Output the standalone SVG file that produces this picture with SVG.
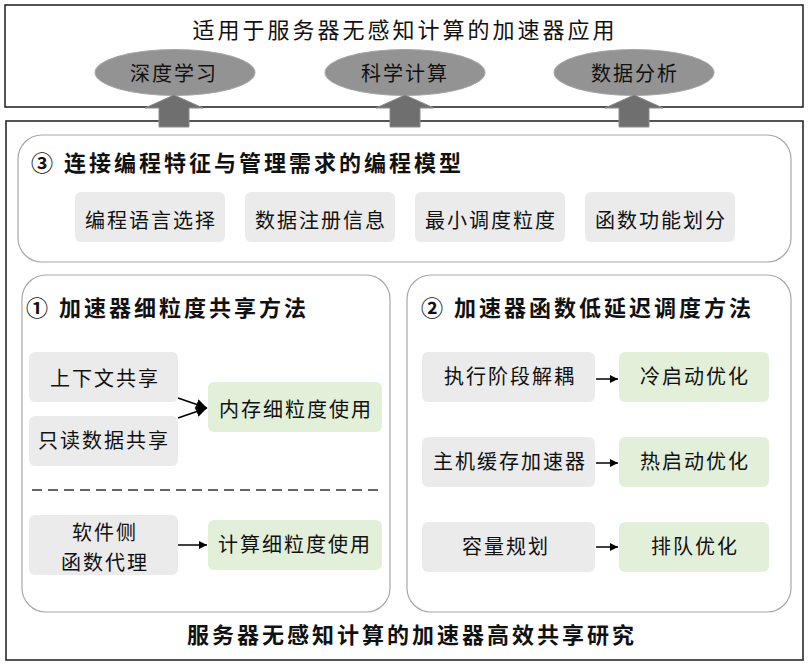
<svg xmlns="http://www.w3.org/2000/svg" width="808" height="668" viewBox="0 0 808 668">
  <defs>
    <marker id="tri" viewBox="0 0 10 10" refX="10" refY="5" markerWidth="10" markerHeight="8" markerUnits="userSpaceOnUse" orient="auto">
      <path d="M0,0 L10,5 L0,10 Z" fill="#000"/>
    </marker>
    <marker id="triBig" viewBox="0 0 10 10" refX="10" refY="5" markerWidth="11" markerHeight="13" markerUnits="userSpaceOnUse" orient="auto">
      <path d="M0,0 L10,5 L0,10 Z" fill="#000"/>
    </marker>
  </defs>
  <style>
    .frame { fill: #fff; stroke: #2a2a2a; stroke-width: 1.6; }
    .panel { fill: #fff; stroke: #a8a8a8; stroke-width: 1.2; }
    .gray { fill: #ebebeb; }
    .green { fill: #e2efd9; }
    .oval { fill: #939393; stroke: #a5a5a5; stroke-width: 1; }
    .uparrow { fill: #6f6f6f; stroke: #8c8c8c; stroke-width: 1; }
    text { font-family: "Noto Sans CJK SC", "Noto Sans", sans-serif; fill: #111; text-anchor: middle; }
    .t { font-size: 20px; letter-spacing: 2px; }
    .head { font-size: 22px; letter-spacing: 3px; }
    .bold { font-size: 22px; letter-spacing: 3px; font-weight: 700; text-anchor: start; }
    .link { fill: none; stroke: #000; stroke-width: 1.5; }
    .dash { fill: none; stroke: #333; stroke-width: 1.5; stroke-dasharray: 10 6; }
  </style>

  <!-- application layer -->
  <g id="apps">
    <rect class="frame" x="5" y="5" width="798" height="102"/>
    <text class="head" x="405" y="38">适用于服务器无感知计算的加速器应用</text>
  </g>
  <g id="app-dl">
    <ellipse class="oval" cx="175" cy="72.5" rx="80" ry="23"/>
    <text class="t" x="174" y="81">深度学习</text>
  </g>
  <g id="app-sci">
    <ellipse class="oval" cx="405" cy="72.5" rx="80" ry="23"/>
    <text class="t" x="405" y="81">科学计算</text>
  </g>
  <g id="app-da">
    <ellipse class="oval" cx="634" cy="72.5" rx="80" ry="23"/>
    <text class="t" x="635" y="81">数据分析</text>
  </g>

  <!-- research frame -->
  <g id="research">
    <rect class="frame" x="6" y="121" width="797" height="539"/>
    <text class="bold" x="187" y="643">服务器无感知计算的加速器高效共享研究</text>
  </g>

  <!-- up arrows between the layers -->
  <g id="up-arrows">
    <path class="uparrow" d="M174,95 L203,108 L189,108 L189,127 L159,127 L159,108 L145,108 Z"/>
    <path class="uparrow" d="M405,95 L434,108 L420,108 L420,127 L390,127 L390,108 L376,108 Z"/>
    <path class="uparrow" d="M634,95 L663,108 L649,108 L649,127 L619,127 L619,108 L605,108 Z"/>
  </g>

  <!-- ③ programming model -->
  <g id="model">
    <rect class="panel" x="18" y="135" width="773" height="127" rx="24"/>
    <text class="bold" x="31" y="171">③ 连接编程特征与管理需求的编程模型</text>
  </g>
  <g id="m-lang">
    <rect class="gray" x="75" y="192" width="150" height="50" rx="6"/>
    <text class="t" x="151" y="228">编程语言选择</text>
  </g>
  <g id="m-data">
    <rect class="gray" x="245" y="192" width="150" height="50" rx="6"/>
    <text class="t" x="321" y="228">数据注册信息</text>
  </g>
  <g id="m-gran">
    <rect class="gray" x="415" y="192" width="150" height="50" rx="6"/>
    <text class="t" x="491" y="228">最小调度粒度</text>
  </g>
  <g id="m-func">
    <rect class="gray" x="585" y="192" width="150" height="50" rx="6"/>
    <text class="t" x="661" y="228">函数功能划分</text>
  </g>

  <!-- ① fine-grained sharing -->
  <g id="sharing">
    <rect class="panel" x="22" y="275" width="368" height="337" rx="24"/>
    <text class="bold" x="26" y="316">① 加速器细粒度共享方法</text>
    <line class="dash" x1="32" y1="490" x2="382" y2="490"/>
  </g>
  <g id="s-ctx">
    <rect class="gray" x="29" y="352" width="149" height="50" rx="6"/>
    <text class="t" x="105" y="386">上下文共享</text>
  </g>
  <g id="s-ro">
    <rect class="gray" x="29" y="416" width="149" height="50" rx="6"/>
    <text class="t" x="104" y="448">只读数据共享</text>
  </g>
  <g id="s-mem">
    <rect class="green" x="208" y="382" width="174" height="50" rx="6"/>
    <text class="t" x="296" y="417">内存细粒度使用</text>
  </g>
  <g id="s-proxy">
    <rect class="gray" x="29" y="515" width="149" height="60" rx="6"/>
    <text class="t" x="105" y="540">软件侧</text>
    <text class="t" x="105" y="570">函数代理</text>
  </g>
  <g id="s-comp">
    <rect class="green" x="208" y="520" width="174" height="50" rx="6"/>
    <text class="t" x="295" y="552">计算细粒度使用</text>
  </g>

  <!-- ② low-latency scheduling -->
  <g id="scheduling">
    <rect class="panel" x="407" y="275" width="384" height="337" rx="24"/>
    <text class="bold" x="421" y="316">② 加速器函数低延迟调度方法</text>
  </g>
  <g id="c-decouple">
    <rect class="gray" x="422" y="352" width="173" height="50" rx="6"/>
    <text class="t" x="510" y="384">执行阶段解耦</text>
  </g>
  <g id="c-cold">
    <rect class="green" x="619" y="352" width="150" height="50" rx="6"/>
    <text class="t" x="695" y="384">冷启动优化</text>
  </g>
  <g id="c-cache">
    <rect class="gray" x="422" y="437" width="173" height="50" rx="6"/>
    <text class="t" x="510" y="469">主机缓存加速器</text>
  </g>
  <g id="c-warm">
    <rect class="green" x="619" y="437" width="150" height="50" rx="6"/>
    <text class="t" x="695" y="469">热启动优化</text>
  </g>
  <g id="c-cap">
    <rect class="gray" x="422" y="522" width="173" height="50" rx="6"/>
    <text class="t" x="506" y="554">容量规划</text>
  </g>
  <g id="c-queue">
    <rect class="green" x="619" y="522" width="150" height="50" rx="6"/>
    <text class="t" x="695" y="554">排队优化</text>
  </g>

  <!-- connectors -->
  <g id="connectors">
    <line class="link" x1="178" y1="398" x2="207" y2="408" marker-end="url(#triBig)"/>
    <line class="link" x1="178" y1="418" x2="207" y2="408" marker-end="url(#triBig)"/>
    <line class="link" x1="178" y1="545" x2="207" y2="545" marker-end="url(#tri)"/>
    <line class="link" x1="596" y1="379" x2="618" y2="379" marker-end="url(#tri)"/>
    <line class="link" x1="596" y1="463" x2="618" y2="463" marker-end="url(#tri)"/>
    <line class="link" x1="596" y1="547" x2="618" y2="547" marker-end="url(#tri)"/>
  </g>
</svg>
